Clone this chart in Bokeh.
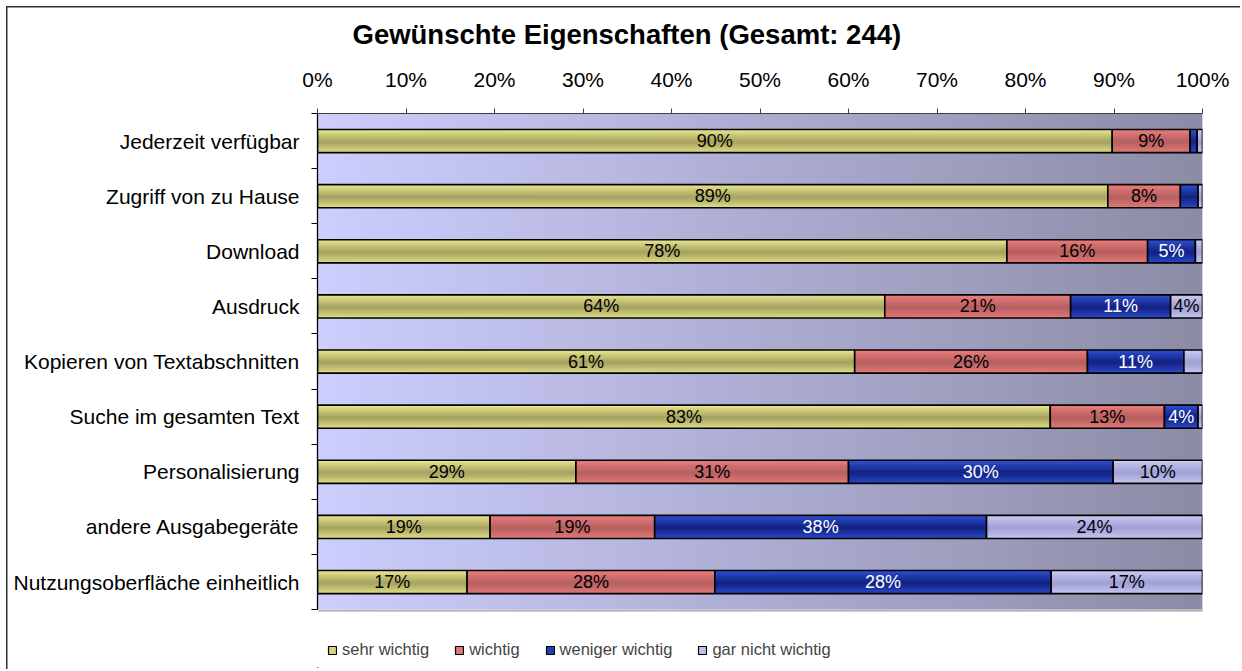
import numpy as np
from bokeh.plotting import figure
from bokeh.models import (FixedTicker, Range1d, Legend, LegendItem, Title,
                          CustomJSTickFormatter, ColumnDataSource)
from bokeh.core.properties import value
from bokeh.embed import file_html
from bokeh.resources import INLINE

categories = ["Jederzeit verfügbar", "Zugriff von zu Hause", "Download", "Ausdruck",
              "Kopieren von Textabschnitten", "Suche im gesamten Text", "Personalisierung",
              "andere Ausgabegeräte", "Nutzungsoberfläche einheitlich"]
series_names = ["sehr wichtig", "wichtig", "weniger wichtig", "gar nicht wichtig"]
sehr_wichtig = [89.8, 89.3, 77.9, 64.1, 60.7, 82.8, 29.2, 19.5, 16.9]
wichtig = [8.8, 8.2, 15.9, 21.0, 26.3, 12.9, 30.8, 18.6, 28.0]
weniger_wichtig = [0.8, 2.0, 5.4, 11.3, 10.9, 3.8, 29.9, 37.5, 38.0]
gar_nicht_wichtig = [0.6, 0.5, 0.8, 3.6, 2.1, 0.5, 10.1, 24.4, 17.1]
sehr_lbl = ["90%", "89%", "78%", "64%", "61%", "83%", "29%", "19%", "17%"]
wichtig_lbl = ["9%", "8%", "16%", "21%", "26%", "13%", "31%", "19%", "28%"]
weniger_lbl = ["", "", "5%", "11%", "11%", "4%", "30%", "38%", "28%"]
gar_lbl = ["", "", "", "4%", "", "", "10%", "24%", "17%"]
x_ticks = [0, 10, 20, 30, 40, 50, 60, 70, 80, 90, 100]

FONT = "Liberation Sans"
series = [sehr_wichtig, wichtig, weniger_wichtig, gar_nicht_wichtig]
labels = [sehr_lbl, wichtig_lbl, weniger_lbl, gar_lbl]
light = [(244, 244, 150), (246, 130, 130), (52, 86, 226), (212, 212, 250)]
dark = [(166, 162, 96), (182, 96, 96), (18, 34, 130), (160, 160, 214)]
mid = ["#d6d47c", "#de7676", "#2440b0", "#c0c0ec"]
text_colors = ["black", "black", "white", "black"]

n = len(categories)
ypos = [n - 1 - i for i in range(n)]
y_lo, y_hi = -0.5, n - 0.5          # plot-area extent
y_start = -1.55                      # extra room below for the legend

p = figure(width=1240, height=669, output_backend="svg", toolbar_location=None,
           x_range=Range1d(0, 100), y_range=Range1d(y_start, y_hi),
           x_axis_location="above", y_axis_location="left",
           min_border_left=317, min_border_right=38, min_border_top=113, min_border_bottom=2)
# outer chart border (top and left), drawn behind the transparent canvas border area
p.styles = {"background": "linear-gradient(#303030,#303030) 6px 6px / calc(100% - 6px) 1.5px no-repeat, "
                          "linear-gradient(#303030,#303030) 6px 6px / 1.5px calc(100% - 6px) no-repeat, white"}
p.border_fill_alpha = 0
p.grid.visible = False
p.outline_line_color = None
p.background_fill_alpha = 0

# plot-area gradient background
W = 400
img = np.zeros((1, W), dtype=np.uint32)
view = img.view(dtype=np.uint8).reshape((1, W, 4))
c0 = np.array([206, 206, 255]); c1 = np.array([140, 140, 166])
for i in range(W):
    t = i / (W - 1)
    c = c0 + (c1 - c0) * t
    view[0, i, 0:3] = c.astype(np.uint8)
    view[0, i, 3] = 255
p.image_rgba(image=[img], x=0, y=y_lo, dw=100, dh=y_hi - y_lo)
# plot-area shadow at right / bottom
p.segment(x0=[100.1, 0.1], y0=[y_hi - 0.02, y_lo - 0.02], x1=[100.1, 100.1], y1=[y_lo - 0.02, y_lo - 0.02],
          line_color="#b8b8b8", line_width=2)

# stacked bars with shading strips
h = 0.42
N = 14
lefts = [0.0] * n
legend_items = []
for j, vals in enumerate(series):
    rights = [lefts[i] + vals[i] for i in range(n)]
    for k in range(N):
        t = (k + 0.5) / N
        d = 1 - abs(t - 0.55) / 0.55
        d = max(0.0, min(1.0, d)) ** 0.8
        if t < 0.1:
            d *= 0.6
        col = tuple(int(light[j][c] + (dark[j][c] - light[j][c]) * d) for c in range(3))
        p.hbar(y=[y + h / 2 - (k + 0.5) * h / N for y in ypos], left=lefts, right=rights,
               height=h / N * 1.4, fill_color="#%02x%02x%02x" % col, line_color=None)
    p.hbar(y=ypos, left=lefts, right=rights, height=h, fill_alpha=0,
           line_color="black", line_width=1.6)
    src = ColumnDataSource(dict(x=[(lefts[i] + rights[i]) / 2 for i in range(n)], y=ypos, t=labels[j]))
    p.text(x="x", y="y", text="t", source=src, text_align="center", text_baseline="middle",
           text_font=value(FONT), text_font_size="18px", text_color=text_colors[j])
    # legend proxy (placed far outside the canvas)
    lr = p.hbar(y=[-100], left=[-300], right=[-299], height=h, fill_color=mid[j],
                line_color="black", line_width=1.2)
    legend_items.append(LegendItem(label=series_names[j], renderers=[lr]))
    lefts = rights

# top axis
xa = p.xaxis[0]
xa.ticker = FixedTicker(ticks=x_ticks)
xa.formatter = CustomJSTickFormatter(code="return tick.toFixed(0) + '%';")
xa.major_label_text_font = FONT
xa.major_label_text_font_size = "21px"
xa.major_label_text_color = "black"
xa.major_tick_out = 5
xa.major_tick_in = 0
xa.minor_tick_out = 0
xa.minor_tick_in = 0
xa.axis_line_color = "#404040"
xa.major_tick_line_color = "#404040"
xa.major_label_standoff = 18

# left axis (ticks at category boundaries, labels at centres), limited to the plot area
ya = p.yaxis[0]
ya.bounds = (y_lo, y_hi)
ya.ticker = FixedTicker(ticks=ypos, minor_ticks=[y + 0.5 for y in range(-1, n)])
ya.major_label_overrides = {ypos[i]: categories[i] for i in range(n)}
ya.major_label_text_font = FONT
ya.major_label_text_font_size = "21px"
ya.major_label_text_color = "black"
ya.major_tick_out = 0
ya.major_tick_in = 0
ya.minor_tick_out = 6
ya.minor_tick_in = 0
ya.minor_tick_line_color = "black"
ya.axis_line_color = "black"
ya.axis_line_width = 1.3
ya.major_label_standoff = 12

t = Title(text="Gewünschte Eigenschaften (Gesamt: 244)", align="left", offset=35,
          text_font=FONT, text_font_size="27.5px", text_font_style="bold",
          text_color="black", standoff=29)
p.add_layout(t, "above")

leg = Legend(items=legend_items, orientation="horizontal", location=(10, 8),
             label_text_font=FONT, label_text_font_size="16.5px", glyph_width=10, glyph_height=10,
             label_standoff=5, spacing=25, border_line_color=None, background_fill_alpha=0,
             padding=4, margin=0)
p.add_layout(leg, "center")

open("out.html", "w").write(file_html(p, INLINE))
